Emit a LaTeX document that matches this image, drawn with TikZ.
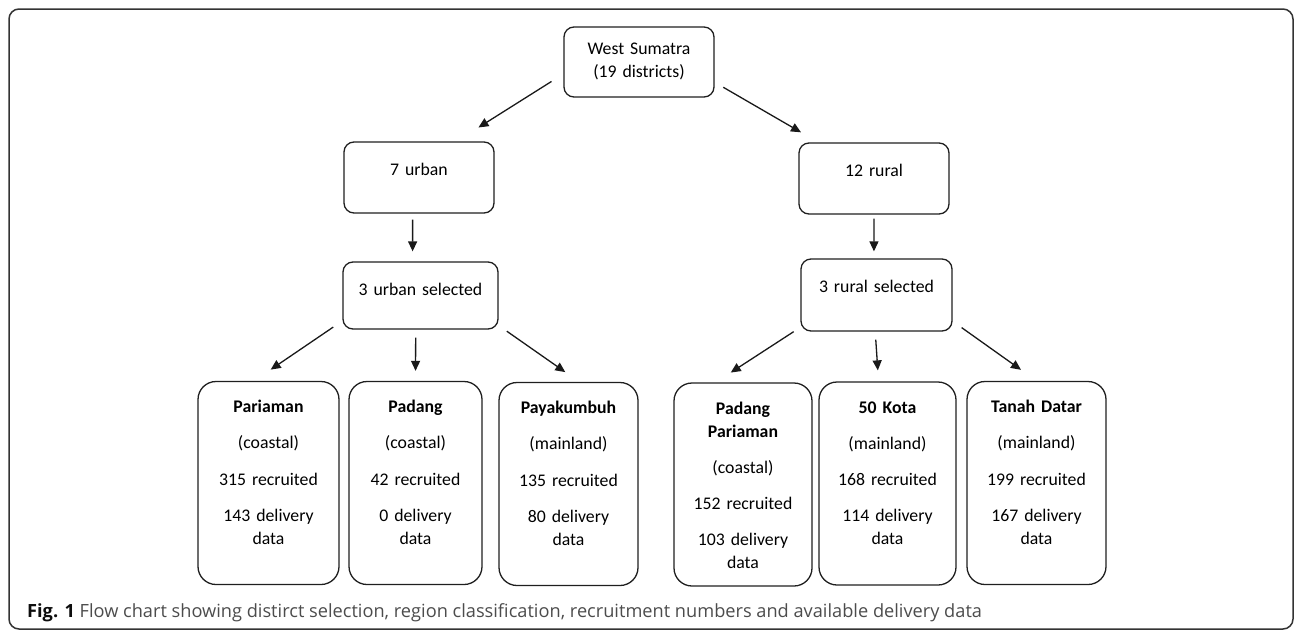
\documentclass[tikz,border=0pt]{standalone}
\usepackage{fontspec}
\setmainfont{Carlito}
\newfontfamily\capfont{Open Sans}
\usetikzlibrary{arrows.meta}
\newcommand{\boxfont}{\fontsize{17.75pt}{23pt}\selectfont}
\tikzset{
  box/.style={draw=black!88, line width=1.3pt, rounded corners=10pt, align=center,
    inner sep=0pt, font=\boxfont, text height=33pt},
  tall/.style={box, rounded corners=18pt, text height=31pt, text depth=172pt},
  arr/.style={-{Triangle[length=10pt,width=9pt]}, line width=1.3pt, black!90},
}
\begin{document}
\begin{tikzpicture}[x=1pt,y=-1pt]
  \useasboundingbox (0,0) rectangle (1296,632);
  %frame
  \draw[rounded corners=10pt, line width=1.5pt, black!80] (9,9) rectangle (1293,629);

  \node[box, text width=150pt, text height=27pt, text depth=43pt] (ws) at (639,62) {West Sumatra\\(19 districts)};
  \node[box, text width=150pt, text depth=38pt] (urban) at (419,177.5) {7 urban};
  \node[box, text width=150pt, text depth=38pt] (rural) at (874,178.5) {12 rural};
  \node[box, text width=155pt, text depth=34pt] (usel) at (420.5,295.5) {3 urban selected};
  \node[box, text width=151pt, text depth=39pt] (rsel) at (876.5,295) {3 rural selected};

  %districts
  \node[tall, text width=141pt] (pari) at (268.5,483) {\textbf{Pariaman}\\[13.3pt](coastal)\\[13.3pt]315 recruited\\[13.3pt]143 delivery\\data};
  \node[tall, text width=133pt] (padang) at (415.5,483) {\textbf{Padang}\\[13.3pt](coastal)\\[13.3pt]42 recruited\\[13.3pt]0 delivery\\data};
  \node[tall, text width=139pt] (payak) at (568.5,484) {\textbf{Payakumbuh}\\[13.3pt](mainland)\\[13.3pt]135 recruited\\[13.3pt]80 delivery\\data};
  \node[tall, text width=138pt] (padpar) at (743,484.5) {\textbf{Padang}\\\textbf{Pariaman}\\[13.3pt](coastal)\\[13.3pt]152 recruited\\[13.3pt]103 delivery\\data};
  \node[tall, text width=137pt] (kota) at (887.5,483.5) {\textbf{50 Kota}\\[13.3pt](mainland)\\[13.3pt]168 recruited\\[13.3pt]114 delivery\\data};
  \node[tall, text width=139pt] (tanah) at (1036.5,483) {\textbf{Tanah Datar}\\[13.3pt](mainland)\\[13.3pt]199 recruited\\[13.3pt]167 delivery\\data};

  \foreach \p/\q/\s/\e in {ws.189/urban.44/14/26, ws.-15/rural.147/10/20,
      urban.260/usel.103/6/10, rural.270/rsel.94/4/7,
      usel.198/pari.98/11/20, usel.262/padang.90/8/10, usel.-21/payak.84/10/17,
      rsel.203/padpar.105/8/18, rsel.268/kota.95/8/11, rsel.-19/tanah.90/11/19}
    \draw[arr, shorten <=\s pt, shorten >=\e pt] (\p) -- (\q);

  \node[anchor=base west, inner sep=0pt, text=black!70, font=\capfont\fontsize{18.2pt}{21pt}\selectfont] (cap) at (27,617)
    {\textcolor{black!95}{\textbf{Fig. 1}} Flow chart showing distirct selection, region classification, recruitment numbers and available delivery data};
\end{tikzpicture}
\end{document}
